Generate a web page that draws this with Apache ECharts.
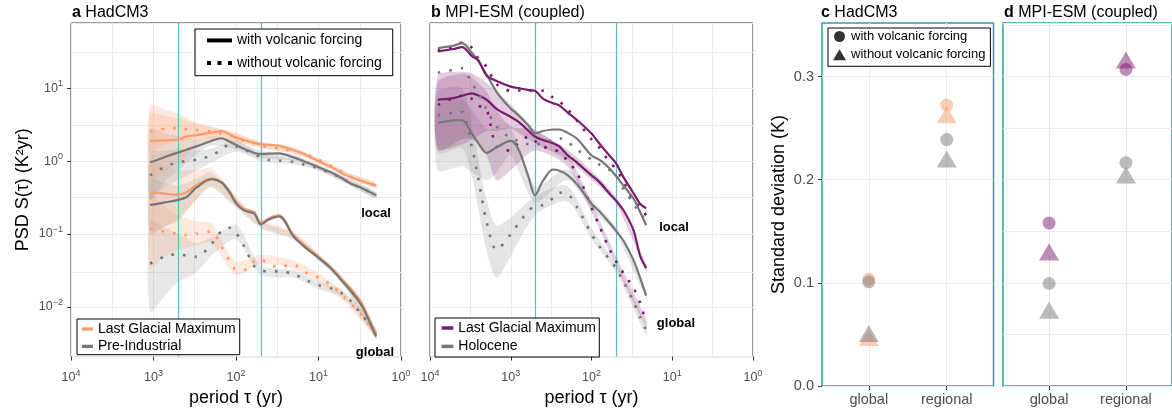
<!DOCTYPE html>
<html><head><meta charset="utf-8">
<script src="https://cdn.jsdelivr.net/npm/echarts@6/dist/echarts.min.js"></script>
<style>html,body{margin:0;padding:0;background:#fff}#c{width:1172px;height:412px}</style>
</head><body><div id="c"></div>
<script>
// ================= DATA =================
// Panel a (HadCM3) – periods (yr) and PSD values (K^2 yr)
const periodsA = [1100,900,700,500,400,300,200,150,120,100,80,60,50,40,30,20,15,10,7,5,4,3,2];
const hadLgmLocalVolc   = [1.90,1.92,1.94,1.98,2.18,2.29,2.47,2.60,2.34,2.11,1.96,1.79,1.71,1.68,1.64,1.42,1.26,1.00,0.83,0.67,0.60,0.53,0.46];
const hadPiLocalVolc    = [0.97,1.04,1.16,1.32,1.44,1.60,1.90,2.07,1.86,1.68,1.48,1.30,1.26,1.27,1.28,1.13,1.00,0.83,0.70,0.57,0.49,0.43,0.34];
const hadLgmLocalNoVolc = [2.54,2.68,2.82,2.85,2.76,2.68,2.54,2.41,2.29,2.11,1.90,1.75,1.64,1.55,1.51,1.39,1.28,1.05,0.86,0.70,0.61,0.54,0.46];
const hadPiLocalNoVolc  = [0.64,0.73,0.86,0.96,1.01,1.05,1.20,1.44,1.71,1.60,1.44,1.26,1.13,1.04,1.02,0.98,0.90,0.80,0.68,0.57,0.49,0.43,0.34];
const hadLgmGlobalVolc  = [0.373,0.366,0.355,0.347,0.373,0.469,0.577,0.52,0.393,0.28,0.222,0.20,0.142,0.165,0.18,0.097,0.071,0.049,0.0347,0.0227,0.0175,0.0113,0.0041];
const hadPiGlobalVolc   = [0.252,0.26,0.274,0.294,0.32,0.436,0.565,0.51,0.373,0.265,0.211,0.19,0.136,0.158,0.175,0.092,0.0675,0.047,0.0333,0.0216,0.0161,0.0104,0.0039];
const hadLgmGlobalNoVolc= [0.119,0.113,0.106,0.101,0.097,0.101,0.108,0.067,0.043,0.0325,0.032,0.0423,0.045,0.0377,0.0355,0.0377,0.0303,0.0252,0.0198,0.0138,0.011,0.0076,0.0043];
const hadPiGlobalNoVolc = [0.0393,0.0436,0.0504,0.0526,0.0504,0.0484,0.072,0.11,0.122,0.104,0.068,0.036,0.0316,0.0306,0.0306,0.0282,0.0239,0.0198,0.0179,0.0148,0.0118,0.0078,0.0045];
// Panel a confidence bands
const periodsBandA = [1100,700,500,300,200,100,50,20,10,5,2];
const hadLgmLocalVolcLo   = [0.55,0.75,0.95,1.6,1.95,1.85,1.55,1.30,0.92,0.62,0.43];
const hadLgmLocalVolcHi   = [5.9,5.0,4.5,3.4,3.0,2.45,1.88,1.55,1.08,0.72,0.50];
const hadPiLocalVolcLo    = [0.30,0.55,0.75,1.25,1.65,1.45,1.12,1.02,0.76,0.52,0.31];
const hadPiLocalVolcHi    = [2.8,2.4,2.2,2.0,2.2,1.90,1.40,1.24,0.90,0.62,0.37];
const hadLgmLocalNoVolcLo = [1.3,1.7,1.9,2.1,2.1,1.85,1.5,1.28,0.97,0.65,0.43];
const hadLgmLocalNoVolcHi = [4.5,4.2,3.9,3.3,3.0,2.4,1.8,1.5,1.13,0.75,0.5];
const hadPiLocalNoVolcLo  = [0.30,0.45,0.55,0.75,0.95,1.35,1.0,0.9,0.74,0.52,0.31];
const hadPiLocalNoVolcHi  = [1.3,1.4,1.45,1.4,1.5,1.9,1.27,1.07,0.87,0.62,0.37];
const hadLgmGlobalVolcLo  = [0.11,0.13,0.15,0.30,0.45,0.24,0.125,0.087,0.045,0.0207,0.0037];
const hadLgmGlobalVolcHi  = [1.0,0.85,0.75,0.75,0.80,0.33,0.16,0.107,0.054,0.0249,0.0045];
const hadPiGlobalVolcLo   = [0.10,0.13,0.16,0.30,0.44,0.23,0.12,0.083,0.043,0.0198,0.0035];
const hadPiGlobalVolcHi   = [0.55,0.50,0.47,0.58,0.70,0.30,0.15,0.10,0.051,0.0236,0.0043];
const hadLgmGlobalNoVolcLo= [0.035,0.05,0.06,0.07,0.075,0.027,0.039,0.033,0.022,0.012,0.0038];
const hadLgmGlobalNoVolcHi= [0.35,0.23,0.18,0.15,0.14,0.042,0.052,0.043,0.029,0.0158,0.0049];
const hadPiGlobalNoVolcLo = [0.0085,0.015,0.022,0.03,0.05,0.085,0.027,0.025,0.0176,0.0131,0.004];
const hadPiGlobalNoVolcHi = [0.15,0.12,0.10,0.075,0.09,0.135,0.037,0.032,0.0222,0.0167,0.0051];

// Panel b (MPI-ESM coupled)
const periodsB = [8000,6000,5000,4000,3000,2500,2000,1500,1000,800,600,500,400,300,250,200,150,100,80,60,50,40,30,25,21];
const mpiLgmLocalVolc    = [32.3,34,35.1,37,27.6,24.1,15.1,12.7,10.6,10.1,9.5,9.3,7.25,6.27,5.83,4.74,3.66,2.4,1.75,1.2,0.95,0.6,0.36,0.26,0.225];
const mpiHolLocalVolc    = [35.8,37.5,39,41.9,30.6,23.6,15.6,9.0,5.26,4.27,3.07,2.41,2.60,2.73,2.73,2.47,2.02,1.20,1.05,0.80,0.63,0.46,0.303,0.20,0.132];
const mpiLgmLocalNoVolc  = [33.4,35.3,38.5,42.7,35.8,25.4,20,11.5,9.3,9.4,9.4,9.3,9.3,7.5,6.6,5.3,3.55,2.0,1.55,0.97,0.79,0.52,0.29,0.235,0.18];
const mpiHolLocalNoVolc  = [16.4,17.5,18.2,19.0,11.5,8.6,5.2,3.0,2.07,1.90,1.71,1.68,1.82,1.96,2.07,1.86,1.44,1.05,0.9,0.76,0.65,0.41,0.26,0.19,0.155];
const mpiLgmGlobalVolc   = [7.03,7.18,7.41,7.96,8.56,7.96,7.03,5.26,4.06,3.47,2.60,2.18,1.96,1.77,1.60,1.23,0.95,0.64,0.52,0.36,0.29,0.21,0.11,0.05,0.034];
const mpiHolGlobalVolc   = [3.40,3.55,3.66,3.66,2.35,1.75,1.30,1.55,1.90,1.45,0.60,0.34,0.536,0.77,0.74,0.65,0.48,0.26,0.205,0.143,0.112,0.08,0.043,0.025,0.0142];
const mpiLgmGlobalNoVolc = [5.95,6.88,7.33,7.96,7.18,5.8,5.2,1.6,1.4,1.8,2.18,1.9,1.6,1.45,1.33,1.02,0.68,0.23,0.13,0.062,0.043,0.0285,0.018,0.0113,0.006];
const mpiHolGlobalNoVolc = [4.27,4.5,4.64,4.74,1.5,0.55,0.15,0.061,0.099,0.14,0.21,0.24,0.25,0.31,0.37,0.36,0.23,0.10,0.068,0.045,0.034,0.022,0.0115,0.0072,0.0047];
// Panel b confidence bands
const periodsBandB = [8000,4000,3000,2000,1500,1000,500,200,100,50,21];
const mpiLgmGlobalVolcLo   = [1.5,1.7,2.0,2.6,2.6,2.8,1.75,1.05,0.55,0.26,0.031];
const mpiLgmGlobalVolcHi   = [15,17,16,12,9,6,2.7,1.45,0.74,0.32,0.038];
const mpiLgmGlobalNoVolcLo = [1.4,2.0,2.0,1.2,0.55,0.75,1.4,0.85,0.2,0.037,0.0053];
const mpiLgmGlobalNoVolcHi = [12,16,14,9,5,3.0,2.7,1.25,0.27,0.05,0.0068];
const mpiHolGlobalVolcLo   = [0.75,0.85,0.7,0.55,0.7,1.2,0.27,0.55,0.22,0.1,0.0128];
const mpiHolGlobalVolcHi   = [6,7,5,2.8,2.8,2.8,0.45,0.78,0.3,0.125,0.016];
const mpiHolGlobalNoVolcLo = [1.3,1.5,0.6,0.06,0.025,0.05,0.18,0.28,0.085,0.03,0.004];
const mpiHolGlobalNoVolcHi = [9,10,3,0.3,0.13,0.17,0.33,0.46,0.12,0.039,0.0055];

// Tick labels (base 10 with exponent)
const psdTickValues = [0.01,0.1,1,10];
const psdTickExponents = ['\u22122','\u22121','0','1'];
const periodTickValues = [1,10,100,1000,10000];
const periodTickExponents = ['0','1','2','3','4'];
const sdTickValues = [0,0.1,0.2,0.3];

// Panels c,d – standard deviation (K), [global, regional]
const sdCategories = ['global','regional'];
const hadLgmSdVolc   = [0.1035,0.2725];
const hadLgmSdNoVolc = [0.0445,0.2605];
const hadPiSdVolc    = [0.101,0.239];
const hadPiSdNoVolc  = [0.0485,0.2175];
const mpiLgmSdVolc   = [0.158,0.307];
const mpiLgmSdNoVolc = [0.1275,0.3135];
const mpiHolSdVolc   = [0.0994,0.2165];
const mpiHolSdNoVolc = [0.071,0.202];

// Reference lines and minor grid positions
const markerPeriods = [500,50];
const minorPeriodGrid = [3162.28,316.228,31.6228,3.16228];
const minorPsdGrid = [31.6228,3.16228,0.316228,0.0316228,0.00316228];

// ================= CHART =================
const FONT = 'Liberation Sans';
const ORANGE = '#F99B6B', GREY = '#777777', PURPLE = '#791C6D';
const TEAL_LINE = '#5EBFBF', TEAL_BORDER = '#2BA39C';
const chart = echarts.init(document.getElementById('c'));

function pairs(periods, vals){ return periods.map((p,i)=>[p, vals[i]]); }
function lineSeries(xi, periods, vals, color, dotted){
  return {type:'line', xAxisIndex:xi, yAxisIndex:xi, data:pairs(periods, vals), symbol:'none', showSymbol:false,
    smooth:0.3, z:4, silent:true,
    lineStyle: dotted ? {color, width:2.6, type:[2.6,9], cap:'butt'} : {color, width:2.2},
    itemStyle:{color}};
}
function bandSeries(xi, periods, lo, hi, fill){
  return {type:'custom', xAxisIndex:xi, yAxisIndex:xi, data:[[periods[0], hi[0]]], z:2, silent:true, clip:true,
    encode:{x:0, y:1},
    renderItem(params, api){
      const pts = [];
      for (let i=0;i<periods.length;i++) pts.push(api.coord([periods[i], hi[i]]));
      for (let i=periods.length-1;i>=0;i--) pts.push(api.coord([periods[i], lo[i]]));
      return {type:'polygon', shape:{points:pts, smooth:0.25}, style:{fill}};
    }};
}
function helperSeries(xi, x0, y0, lines, color, width, z){
  return {type:'line', xAxisIndex:xi, yAxisIndex:xi, data:[[x0,y0]], symbol:'none', silent:true,
    lineStyle:{opacity:0},
    markLine:{silent:true, symbol:'none', z:z, animation:false, label:{show:false},
      lineStyle:{color, width, type:'solid'}, data:lines}};
}
function scatterSeries(xi, vals, color, tri){
  return {type:'scatter', xAxisIndex:xi, yAxisIndex:xi, data:vals.map((v,i)=>[i+1, v]), silent:true, z:3,
    symbol: tri ? 'triangle' : 'circle', symbolSize: tri ? [20,17] : 13, symbolOffset: tri ? [0,-2.6] : [0,0],
    itemStyle:{color, opacity:0.5}};
}

const legendNames = {
  legVolc:'with volcanic forcing', legNoVolc:'without volcanic forcing',
  legLgmA:'Last Glacial Maximum', legPiA:'Pre-Industrial',
  legLgmB:'Last Glacial Maximum', legHolB:'Holocene',
  legCircle:'with volcanic forcing', legTri:'without volcanic forcing'
};
const legFmt = n => legendNames[n];

const powLabel = (vals, exps) => v => {
  for (let i=0;i<vals.length;i++) if (Math.abs(Math.log10(v) - Math.log10(vals[i])) < 1e-6) return '{b|10}{s|' + exps[i] + '}';
  return '';
};
const powRich = {
  b:{fontSize:12.5, color:'#4D4D4D', fontFamily:FONT, lineHeight:18},
  s:{fontSize:9, color:'#4D4D4D', fontFamily:FONT, lineHeight:10, verticalAlign:'top'}
};

const tickStyle = {show:true, length:4, lineStyle:{color:'#333', width:1}};
const labelStyle = {color:'#4D4D4D', fontSize:14.5, fontFamily:FONT};
const gridLine = {show:true, lineStyle:{color:'#EBEBEB', width:1}};
const nameStyle = {color:'#000', fontSize:18, fontFamily:FONT};

function periodAxis(gi){
  return {type:'log', gridIndex:gi, min:1, max:10000, inverse:true, logBase:10,
    axisLine:{show:false}, axisTick:tickStyle, splitLine:gridLine, minorTick:{show:false},
    axisLabel:{margin:12, formatter:powLabel(periodTickValues, periodTickExponents), rich:powRich},
    name:'period \u03C4 (yr)', nameLocation:'middle', nameGap:26, nameTextStyle:nameStyle};
}
function psdAxis(gi, labels){
  const ax = {type:'log', gridIndex:gi, min:0.002065, max:79.4, logBase:10,
    axisLine:{show:false}, splitLine:gridLine,
    axisTick: labels ? tickStyle : {show:false},
    axisLabel: labels ? {margin:8, showMinLabel:false, showMaxLabel:false,
      formatter:powLabel(psdTickValues, psdTickExponents), rich:powRich} : {show:false}};
  if (labels){ ax.name = 'PSD S(\u03C4) (K\u00B2yr)'; ax.nameLocation='middle'; ax.nameGap=39; ax.nameTextStyle=nameStyle; }
  return ax;
}
function catAxis(gi){
  return {type:'value', gridIndex:gi, min:0.4, max:2.6,
    axisLine:{show:false}, splitLine:{show:false},
    axisTick:Object.assign({customValues:[1,2]}, tickStyle),
    axisLabel:Object.assign({margin:6, customValues:[1,2], formatter:v => sdCategories[Math.round(v)-1] || ''}, labelStyle)};
}
function sdAxis(gi, labels){
  const ax = {type:'value', gridIndex:gi, min:0, max:0.352, interval:0.05,
    axisLine:{show:false}, splitLine:gridLine,
    axisTick: labels ? Object.assign({customValues:sdTickValues}, tickStyle) : {show:false},
    axisLabel: labels ? Object.assign({margin:8, customValues:sdTickValues, formatter:v => v.toFixed(1)}, labelStyle) : {show:false}};
  if (labels){ ax.name='Standard deviation (K)'; ax.nameLocation='middle'; ax.nameGap=34; ax.nameTextStyle=nameStyle; }
  return ax;
}

const titleRich = {b:{fontWeight:'bold', fontSize:16, color:'#000', fontFamily:FONT},
                   n:{fontWeight:'normal', fontSize:16, color:'#000', fontFamily:FONT}};
const mkTitle = (letter, txt, left) => ({text:'{b|'+letter+'}{n| '+txt+'}', left, top:5, padding:0,
  textStyle:{fontWeight:'normal', rich:titleRich}});

const minorLinesAB = minorPeriodGrid.map(v=>({xAxis:v})).concat(minorPsdGrid.map(v=>({yAxis:v})));
const tealLines = markerPeriods.map(v=>({xAxis:v}));
const catLines = [{xAxis:1},{xAxis:2}];

const ICON_SOLID_LONG = 'path://M0,0h25v4h-25z';
const ICON_DOTTED = 'path://M0,0h4v4h-4zM10.5,0h4v4h-4zM21,0h4v4h-4z';
const ICON_SOLID_SHORT = 'path://M0,0h12v3.6h-12z';

const legendBox = {borderColor:'#000', borderWidth:1, backgroundColor:'#fff', orient:'vertical', formatter:legFmt,
  symbolKeepAspect:true, textStyle:{color:'#000', fontSize:14, fontFamily:FONT}};

const series = [
  helperSeries(0, 1000, 1, minorLinesAB, '#EBEBEB', 1, 1),
  helperSeries(1, 1000, 1, minorLinesAB, '#EBEBEB', 1, 1),
  helperSeries(2, 1, 0.1, catLines, '#EBEBEB', 1, 1),
  helperSeries(3, 1, 0.1, catLines, '#EBEBEB', 1, 1),
  // bands a
  bandSeries(0, periodsBandA, hadPiGlobalNoVolcLo, hadPiGlobalNoVolcHi, 'rgba(150,150,150,0.22)'),
  bandSeries(0, periodsBandA, hadLgmGlobalNoVolcLo, hadLgmGlobalNoVolcHi, 'rgba(249,155,107,0.22)'),
  bandSeries(0, periodsBandA, hadPiGlobalVolcLo, hadPiGlobalVolcHi, 'rgba(150,150,150,0.22)'),
  bandSeries(0, periodsBandA, hadLgmGlobalVolcLo, hadLgmGlobalVolcHi, 'rgba(249,155,107,0.22)'),
  bandSeries(0, periodsBandA, hadPiLocalNoVolcLo, hadPiLocalNoVolcHi, 'rgba(150,150,150,0.22)'),
  bandSeries(0, periodsBandA, hadPiLocalVolcLo, hadPiLocalVolcHi, 'rgba(150,150,150,0.22)'),
  bandSeries(0, periodsBandA, hadLgmLocalNoVolcLo, hadLgmLocalNoVolcHi, 'rgba(249,155,107,0.22)'),
  bandSeries(0, periodsBandA, hadLgmLocalVolcLo, hadLgmLocalVolcHi, 'rgba(249,155,107,0.22)'),
  // bands b
  bandSeries(1, periodsBandB, mpiHolGlobalNoVolcLo, mpiHolGlobalNoVolcHi, 'rgba(150,150,150,0.25)'),
  bandSeries(1, periodsBandB, mpiHolGlobalVolcLo, mpiHolGlobalVolcHi, 'rgba(150,150,150,0.25)'),
  bandSeries(1, periodsBandB, mpiLgmGlobalNoVolcLo, mpiLgmGlobalNoVolcHi, 'rgba(140,50,125,0.24)'),
  bandSeries(1, periodsBandB, mpiLgmGlobalVolcLo, mpiLgmGlobalVolcHi, 'rgba(140,50,125,0.24)'),
  // teal reference lines
  helperSeries(0, 1000, 1, tealLines, TEAL_LINE, 1.2, 3),
  helperSeries(1, 1000, 1, tealLines, TEAL_LINE, 1.2, 3),
  // lines a
  lineSeries(0, periodsA, hadPiGlobalNoVolc, GREY, true),
  lineSeries(0, periodsA, hadLgmGlobalNoVolc, ORANGE, true),
  lineSeries(0, periodsA, hadLgmGlobalVolc, ORANGE, false),
  lineSeries(0, periodsA, hadPiGlobalVolc, GREY, false),
  lineSeries(0, periodsA, hadPiLocalNoVolc, GREY, true),
  lineSeries(0, periodsA, hadLgmLocalNoVolc, ORANGE, true),
  lineSeries(0, periodsA, hadLgmLocalVolc, ORANGE, false),
  lineSeries(0, periodsA, hadPiLocalVolc, GREY, false),
  // lines b
  lineSeries(1, periodsB, mpiHolGlobalNoVolc, GREY, true),
  lineSeries(1, periodsB, mpiLgmGlobalNoVolc, PURPLE, true),
  lineSeries(1, periodsB, mpiHolGlobalVolc, GREY, false),
  lineSeries(1, periodsB, mpiLgmGlobalVolc, PURPLE, false),
  lineSeries(1, periodsB, mpiHolLocalNoVolc, GREY, true),
  lineSeries(1, periodsB, mpiLgmLocalNoVolc, PURPLE, true),
  lineSeries(1, periodsB, mpiHolLocalVolc, GREY, false),
  lineSeries(1, periodsB, mpiLgmLocalVolc, PURPLE, false),
  // scatter c
  scatterSeries(2, hadLgmSdVolc, ORANGE, false),
  scatterSeries(2, hadLgmSdNoVolc, ORANGE, true),
  scatterSeries(2, hadPiSdVolc, GREY, false),
  scatterSeries(2, hadPiSdNoVolc, GREY, true),
  // scatter d
  scatterSeries(3, mpiLgmSdVolc, PURPLE, false),
  scatterSeries(3, mpiLgmSdNoVolc, PURPLE, true),
  scatterSeries(3, mpiHolSdVolc, GREY, false),
  scatterSeries(3, mpiHolSdNoVolc, GREY, true),
  // legend-only series
  {type:'line', name:'legVolc', xAxisIndex:0, yAxisIndex:0, data:[], symbol:'none', lineStyle:{color:'#000', width:3.5}, itemStyle:{color:'#000'}},
  {type:'line', name:'legNoVolc', xAxisIndex:0, yAxisIndex:0, data:[], symbol:'none', lineStyle:{color:'#000', width:4, type:[4,6], cap:'butt'}, itemStyle:{color:'#000'}},
  {type:'line', name:'legLgmA', xAxisIndex:0, yAxisIndex:0, data:[], symbol:'none', lineStyle:{color:ORANGE, width:3.5}, itemStyle:{color:ORANGE}},
  {type:'line', name:'legPiA', xAxisIndex:0, yAxisIndex:0, data:[], symbol:'none', lineStyle:{color:GREY, width:3.5}, itemStyle:{color:GREY}},
  {type:'line', name:'legLgmB', xAxisIndex:1, yAxisIndex:1, data:[], symbol:'none', lineStyle:{color:PURPLE, width:3.5}, itemStyle:{color:PURPLE}},
  {type:'line', name:'legHolB', xAxisIndex:1, yAxisIndex:1, data:[], symbol:'none', lineStyle:{color:GREY, width:3.5}, itemStyle:{color:GREY}},
  {type:'scatter', name:'legCircle', xAxisIndex:2, yAxisIndex:2, data:[], symbol:'circle', itemStyle:{color:'#000'}},
  {type:'scatter', name:'legTri', xAxisIndex:2, yAxisIndex:2, data:[], symbol:'triangle', itemStyle:{color:'#000'}}
];

const option = {
  animation:false,
  textStyle:{fontFamily:FONT},
  title:[mkTitle('a','HadCM3',72), mkTitle('b','MPI-ESM (coupled)',431), mkTitle('c','HadCM3',821), mkTitle('d','MPI-ESM (coupled)',1004)],
  grid:[
    {left:71, top:23, width:330, height:339, show:true, borderColor:'#333', borderWidth:1, backgroundColor:'transparent'},
    {left:430, top:23, width:323, height:339, show:true, borderColor:'#333', borderWidth:1, backgroundColor:'transparent'},
    {left:822, top:23, width:171.5, height:363, show:true, borderColor:TEAL_BORDER, borderWidth:1.5, backgroundColor:'transparent'},
    {left:1003, top:23, width:171.5, height:363, show:true, borderColor:TEAL_BORDER, borderWidth:1.5, backgroundColor:'transparent'}
  ],
  xAxis:[periodAxis(0), periodAxis(1), catAxis(2), catAxis(3)],
  yAxis:[psdAxis(0,true), psdAxis(1,false), sdAxis(2,true), sdAxis(3,false)],
  legend:[
    Object.assign({}, legendBox, {data:[{name:'legVolc', icon:ICON_SOLID_LONG},{name:'legNoVolc', icon:ICON_DOTTED}],
      left:195, top:29, padding:[4.4,11,5.7,12], itemGap:8.6, itemWidth:25, itemHeight:14}),
    Object.assign({}, legendBox, {data:[{name:'legLgmA', icon:ICON_SOLID_SHORT},{name:'legPiA', icon:ICON_SOLID_SHORT}],
      left:77, top:319, padding:[3,4,1.3,5], itemGap:3.4, itemWidth:11, itemHeight:14}),
    Object.assign({}, legendBox, {data:[{name:'legLgmB', icon:ICON_SOLID_SHORT},{name:'legHolB', icon:ICON_SOLID_SHORT}],
      left:435, top:318, padding:[3,3.3,3.6,6.7], itemGap:4.4, itemWidth:11.6, itemHeight:14}),
    Object.assign({}, legendBox, {data:[{name:'legCircle', icon:'circle'},{name:'legTri', icon:'triangle'}],
      left:828, top:28, padding:[2,5,5,5], itemGap:5.3, itemWidth:13, itemHeight:11,
      textStyle:{color:'#000', fontSize:13, fontFamily:FONT}})
  ],
  graphic:[
    {type:'text', x:376, y:213, z:10, style:{text:'local', font:'bold 13px Liberation Sans', fill:'#000', align:'center', verticalAlign:'middle'}},
    {type:'text', x:375, y:352, z:10, style:{text:'global', font:'bold 13px Liberation Sans', fill:'#000', align:'center', verticalAlign:'middle'}},
    {type:'text', x:674, y:227, z:10, style:{text:'local', font:'bold 13px Liberation Sans', fill:'#000', align:'center', verticalAlign:'middle'}},
    {type:'text', x:676, y:323, z:10, style:{text:'global', font:'bold 13px Liberation Sans', fill:'#000', align:'center', verticalAlign:'middle'}}
  ],
  series
};
chart.setOption(option);
</script>
</body></html>
